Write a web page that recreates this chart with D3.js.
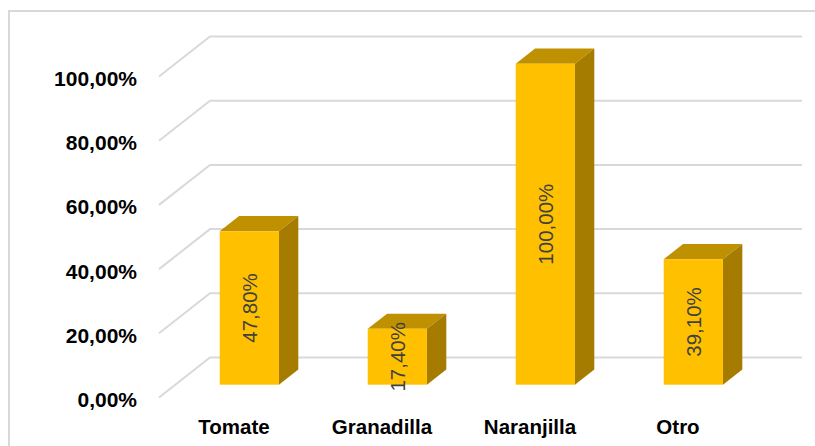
<!DOCTYPE html>
<html>
<head>
<meta charset="utf-8">
<script src="https://cdn.jsdelivr.net/npm/d3@7"></script>
<style>
  html, body { margin: 0; padding: 0; background: #fff; }
  svg { display: block; }
</style>
</head>
<body>
<svg id="chart" width="815" height="446"></svg>
<script>
// ---- data ----
const categories = ["Tomate", "Granadilla", "Naranjilla", "Otro"];
const values = [0.478, 0.174, 1.0, 0.391];
const tickValues = [0, 0.2, 0.4, 0.6, 0.8, 1.0];

// ---- layout ----
const FX0 = 159, FX1 = 751;   // front floor x range
const Y0 = 397.5;             // front floor y
const DX = 51, DY = 40;       // depth offset (full depth)
const Z0 = 0.32, Z1 = 0.70;   // bar depth range
const svg = d3.select("#chart");

const locale = d3.formatLocale({decimal: ",", thousands: ".", grouping: [3], currency: ["", "€"]});
const fmt = locale.format(".2%");

const x = d3.scaleBand().domain(categories).range([FX0, FX1]).paddingInner(0.6).paddingOuter(0.3);
const xc = d3.scaleBand().domain(categories).range([FX0, FX1]);
const y = d3.scaleLinear().domain([0, 1]).range([Y0, Y0 - 321]);

function P(px, v, z) { return [px + z * DX, y(v) - z * DY]; }

// chart border
svg.append("rect").attr("x", 9).attr("y", 11).attr("width", 900).attr("height", 600)
  .attr("fill", "none").attr("stroke", "#d9d9d9").attr("stroke-width", 2);

// gridlines (side wall diagonal + back wall)
const grid = svg.append("g");
tickValues.forEach(t => {
  const a = P(FX0, t, 0), b = P(FX0, t, 1), c = P(FX1, t, 1);
  grid.append("path").attr("d", d3.line()([a, b, c]))
    .attr("fill", "none").attr("stroke", "#d9d9d9").attr("stroke-width", 2);
});

// y labels
svg.append("g").selectAll("text").data(tickValues).join("text")
  .attr("x", 137).attr("y", d => y(d) + 2)
  .attr("text-anchor", "end").attr("dominant-baseline", "central")
  .attr("font-family", "Liberation Sans, Arial, sans-serif").attr("font-weight", "bold")
  .attr("font-size", 21).attr("fill", "#000")
  .text(d => fmt(d));

// bars
const bars = svg.append("g").selectAll("g").data(categories.map((c, i) => ({c, v: values[i]}))).join("g");
bars.each(function(d) {
  const g = d3.select(this);
  const xl = x(d.c), xr = x(d.c) + x.bandwidth();
  // top face
  g.append("path").attr("d", d3.line()([P(xl, d.v, Z0), P(xr, d.v, Z0), P(xr, d.v, Z1), P(xl, d.v, Z1)]) + "Z")
    .attr("fill", "#bf9000");
  // side face
  g.append("path").attr("d", d3.line()([P(xr, 0, Z0), P(xr, d.v, Z0), P(xr, d.v, Z1), P(xr, 0, Z1)]) + "Z")
    .attr("fill", "#a67c00");
  // front face
  const f0 = P(xl, d.v, Z0), f1 = P(xr, 0, Z0);
  g.append("rect").attr("x", f0[0]).attr("y", f0[1]).attr("width", f1[0] - f0[0]).attr("height", f1[1] - f0[1])
    .attr("fill", "#ffc000");
  // data label
  const cx = (f0[0] + f1[0]) / 2, cy = (f0[1] + f1[1]) / 2;
  g.append("text").attr("transform", `translate(${cx},${cy}) rotate(-90)`)
    .attr("text-anchor", "middle").attr("dominant-baseline", "central")
    .attr("font-family", "Liberation Sans, Arial, sans-serif").attr("font-size", 20.5)
    .attr("fill", "#404040").text(fmt(d.v));
});

// category labels
svg.append("g").selectAll("text").data(categories).join("text")
  .attr("x", d => xc(d) + xc.bandwidth() / 2 + 1).attr("y", 434)
  .attr("text-anchor", "middle")
  .attr("font-family", "Liberation Sans, Arial, sans-serif").attr("font-weight", "bold")
  .attr("font-size", 20.5).attr("fill", "#000")
  .text(d => d);
</script>
</body>
</html>
